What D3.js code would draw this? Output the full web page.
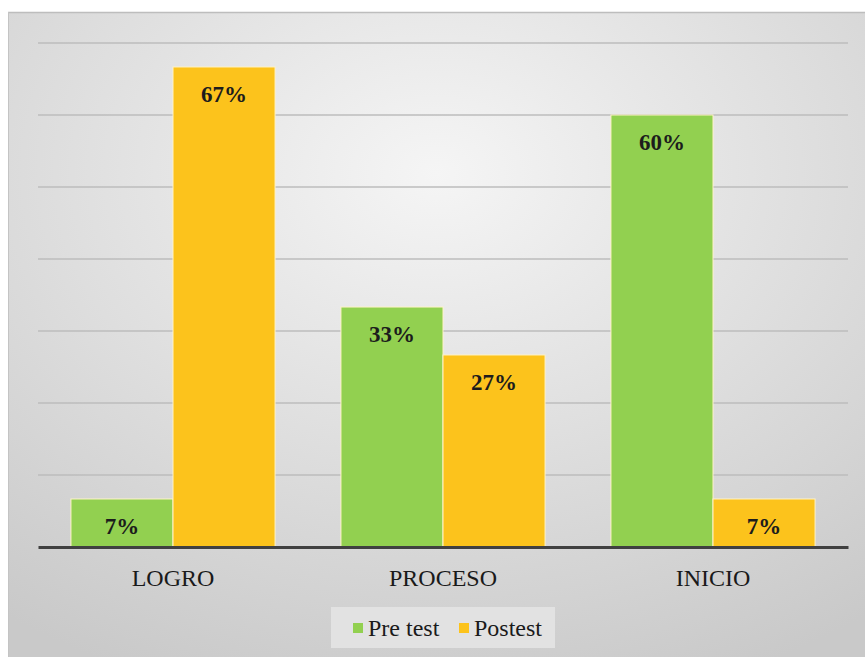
<!DOCTYPE html>
<html>
<head>
<meta charset="utf-8">
<script src="https://cdn.jsdelivr.net/npm/d3@7"></script>
<style>
    body { margin: 0; background: #fff; }
    svg { display: block; }
    .serif { font-family: 'Liberation Serif'; }
</style>
</head>
<body>
<svg id="canvas" width="865" height="657"></svg>
<script>
// data (n = 15, so the values are thirds of 20)
var categories = ['LOGRO', 'PROCESO', 'INICIO'];
var seriesNames = ['Pre test', 'Postest'];
var preTest = [6.67, 33.33, 60];
var postTest = [66.67, 26.67, 6.67];
var valueLabels = [['7%', '33%', '60%'], ['67%', '27%', '7%']];
var yTicks = [0, 10, 20, 30, 40, 50, 60, 70];

var COLORS = ['#92d050', '#fcc31c'];

var svg = d3.select('#canvas');
var WIDTH = 865, HEIGHT = 657;
var plot = { left: 38, right: 848, top: 43, bottom: 547 };

// background panel
var defs = svg.append('defs');
var grad = defs.append('radialGradient')
    .attr('id', 'bg')
    .attr('cx', '50%').attr('cy', '25%').attr('r', '85%');
grad.append('stop').attr('offset', '0%').attr('stop-color', '#f5f5f5');
grad.append('stop').attr('offset', '100%').attr('stop-color', '#c9c9c9');

svg.append('rect')
    .attr('x', 8).attr('y', 12)
    .attr('width', WIDTH - 8).attr('height', HEIGHT - 12)
    .attr('fill', 'url(#bg)');
svg.append('line')
    .attr('x1', 8).attr('x2', WIDTH)
    .attr('y1', 12.5).attr('y2', 12.5)
    .attr('stroke', '#bdbdbd').attr('stroke-width', 1.5);
svg.append('line')
    .attr('x1', 8.5).attr('x2', 8.5)
    .attr('y1', 12).attr('y2', HEIGHT)
    .attr('stroke', '#c4c4c4').attr('stroke-width', 1);

var x0 = d3.scaleBand()
    .domain(categories)
    .range([plot.left, plot.right])
    .paddingInner(0.244)
    .paddingOuter(0.122);
var x1 = d3.scaleBand()
    .domain(seriesNames)
    .range([0, x0.bandwidth()]);
var y = d3.scaleLinear()
    .domain([0, 70])
    .range([plot.bottom, plot.top]);

// gridlines
svg.append('g')
    .selectAll('line')
    .data(yTicks.slice(1))
    .enter().append('line')
    .attr('x1', plot.left).attr('x2', plot.right)
    .attr('y1', function(d) { return y(d); })
    .attr('y2', function(d) { return y(d); })
    .attr('stroke', '#bcbcbc')
    .attr('stroke-width', 1.5);

var series = [preTest, postTest];
var rows = [];
series.forEach(function(values, s) {
    values.forEach(function(v, i) {
        rows.push({ s: s, cat: categories[i], value: v, label: valueLabels[s][i] });
    });
});

var bars = svg.append('g');
bars.selectAll('rect')
    .data(rows)
    .enter().append('rect')
    .attr('x', function(d) { return x0(d.cat) + x1(seriesNames[d.s]); })
    .attr('y', function(d) { return y(d.value); })
    .attr('width', x1.bandwidth())
    .attr('height', function(d) { return y(0) - y(d.value); })
    .attr('fill', function(d) { return COLORS[d.s]; })
    .attr('stroke', '#fff3c8')
    .attr('stroke-width', 1);

bars.selectAll('text')
    .data(rows)
    .enter().append('text')
    .attr('class', 'serif')
    .attr('x', function(d) { return x0(d.cat) + x1(seriesNames[d.s]) + x1.bandwidth() / 2; })
    .attr('y', function(d) { return y(d.value) + 35; })
    .attr('text-anchor', 'middle')
    .style('font-weight', 'bold')
    .style('font-size', '23px')
    .attr('fill', '#1c1c1c')
    .text(function(d) { return d.label; });

// baseline + category axis
var xAxis = svg.append('g')
    .attr('transform', 'translate(0,' + plot.bottom + ')')
    .call(d3.axisBottom(x0).tickSize(0).tickPadding(22));
xAxis.attr('font-family', null);
xAxis.select('.domain')
    .attr('stroke', '#404040')
    .attr('stroke-width', 3);
xAxis.selectAll('text')
    .attr('class', 'serif')
    .style('font-size', '24px')
    .attr('fill', '#1a1a1a');

// legend
var legend = svg.append('g');
legend.append('rect')
    .attr('x', 331).attr('y', 607)
    .attr('width', 224).attr('height', 41)
    .attr('fill', '#e2e2e2');
var legendX = [353, 459];
seriesNames.forEach(function(name, i) {
    legend.append('rect')
        .attr('x', legendX[i]).attr('y', 623)
        .attr('width', 10).attr('height', 10)
        .attr('fill', COLORS[i]);
    legend.append('text')
        .attr('class', 'serif')
        .attr('x', legendX[i] + 15).attr('y', 636)
        .style('font-size', '24px')
        .attr('fill', '#1a1a1a')
        .text(name);
});
</script>
</body>
</html>
